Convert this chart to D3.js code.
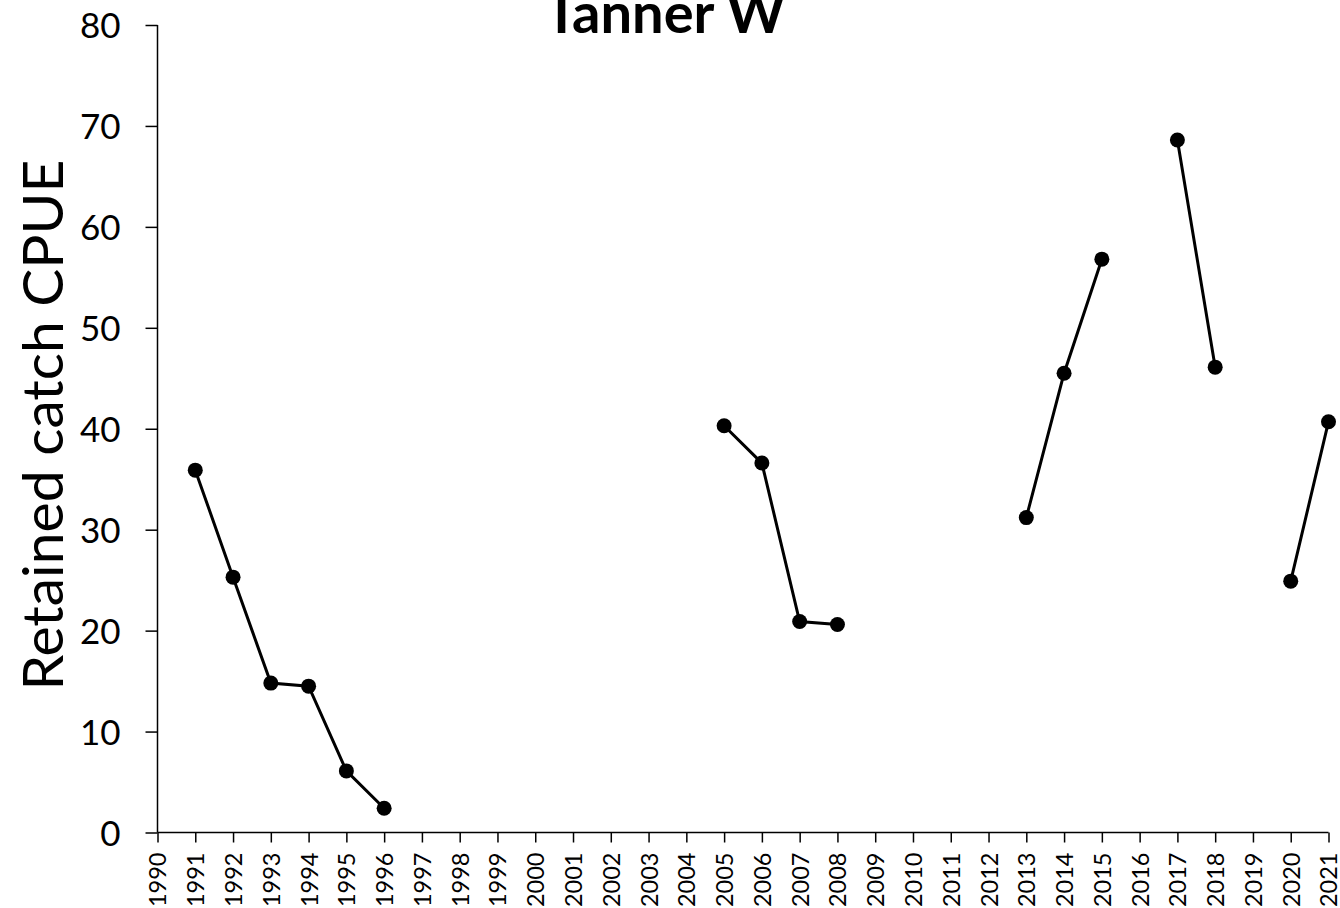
<!DOCTYPE html>
<html>
<head>
<meta charset="utf-8">
<script src="https://cdn.jsdelivr.net/npm/d3@7"></script>
<style>
  html, body { margin: 0; padding: 0; background: #fff; }
  svg { display: block; }
  text { font-family: Lato, "Open Sans", sans-serif; fill: #000; }
</style>
</head>
<body>
<svg id="chart" width="1340" height="908"></svg>
<script>
const years = d3.range(1990, 2022);
const cpue = [
  null, 35.9, 25.3, 14.8, 14.5, 6.1, 2.4, null, null, null,
  null, null, null, null, null, 40.3, 36.6, 20.9, 20.6, null,
  null, null, null, 31.2, 45.5, 56.8, null, 68.6, 46.1, null,
  24.9, 40.7
];
const yTicks = [0, 10, 20, 30, 40, 50, 60, 70, 80];
const title = "Tanner W";
const yLabel = "Retained catch CPUE";

const data = years.map((y, i) => ({ year: y, value: cpue[i] }));

const svg = d3.select("#chart");
const x = d3.scaleLinear().domain([1990, 2021]).range([157.5, 1328.5]);
const y = d3.scaleLinear().domain([0, 80]).range([832.5, 25]);

// y axis
const yAxis = d3.axisLeft(y).tickValues(yTicks).tickSize(12).tickPadding(25)
  .tickFormat(d3.format("d"));
const gy = svg.append("g").attr("transform", `translate(${x(1990)},0)`).call(yAxis);
gy.select(".domain").attr("stroke", "#000").attr("stroke-width", 1.5)
  .attr("d", `M0,${y(80)}V${y(0)}`);
gy.selectAll(".tick line").attr("stroke", "#000").attr("stroke-width", 1.5);
gy.selectAll(".tick text").style("font-size", "35px").attr("dy", "0.36em");

// x axis
const xAxis = d3.axisBottom(x).tickValues(years).tickSize(10).tickFormat(d3.format("d"));
const gx = svg.append("g").attr("transform", `translate(0,${y(0)})`).call(xAxis);
gx.select(".domain").attr("stroke", "#000").attr("stroke-width", 1.5)
  .attr("d", `M${x(1990)},0H${x(2021)}`);
gx.selectAll(".tick line").attr("stroke", "#000").attr("stroke-width", 1.5);
gx.selectAll(".tick text")
  .style("font-size", "23.5px")
  .attr("text-anchor", "end")
  .attr("transform", "rotate(-90)")
  .attr("x", -20)
  .attr("y", 0)
  .attr("dy", "0.36em");

// line segments
const line = d3.line()
  .defined(d => d.value != null)
  .x(d => x(d.year))
  .y(d => y(d.value));
svg.append("path").datum(data)
  .attr("fill", "none").attr("stroke", "#000").attr("stroke-width", 3)
  .attr("d", line);

svg.append("g").selectAll("circle")
  .data(data.filter(d => d.value != null))
  .join("circle")
  .attr("cx", d => x(d.year))
  .attr("cy", d => y(d.value))
  .attr("r", 7.5)
  .attr("fill", "#000");

// title
svg.append("text")
  .attr("x", 665).attr("y", 33)
  .attr("text-anchor", "middle")
  .style("font-size", "56px").style("font-weight", "bold")
  .text(title);

// y label
svg.append("text")
  .attr("transform", "translate(63,425) rotate(-90)")
  .attr("text-anchor", "middle")
  .style("font-size", "57px")
  .text(yLabel);
</script>
</body>
</html>
